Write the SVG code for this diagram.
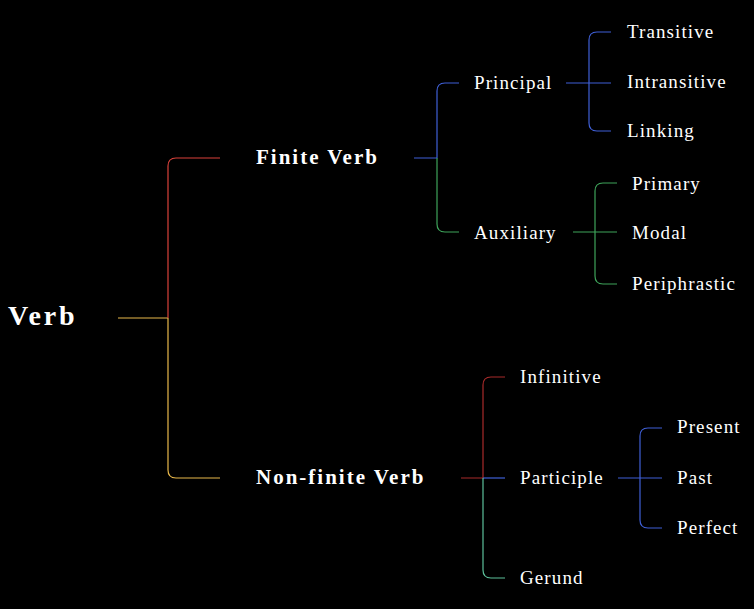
<svg xmlns="http://www.w3.org/2000/svg" width="754" height="609" viewBox="0 0 754 609">
<style>
text{font-family:"Liberation Serif","Times New Roman",serif;fill:#fff;font-size:19px;letter-spacing:1.1px}
.b{font-weight:bold;font-size:21px;letter-spacing:2px}
.r{font-weight:bold;font-size:28px;letter-spacing:2.8px}
path{fill:none;stroke-width:1.2}
.red{stroke:#d9413a}.yel{stroke:#e8b84a}.blu{stroke:#3f5fd6}.grn{stroke:#3ea35a}.dred{stroke:#a82a2a}.teal{stroke:#5cbf9a}
</style>
<rect width="754" height="609" fill="#000"/>
<g id="connectors">
<path class="yel" d="M118 318H168"/>
<path class="red" d="M168 318V166Q168 158 176 158H220"/>
<path class="yel" d="M168 318V470Q168 478 176 478H220"/>
<path class="blu" d="M414 158H437V91Q437 83 445 83H459"/>
<path class="grn" d="M437 158V224Q437 232 445 232H459"/>
<path class="blu" d="M566 83H611M589 83V40Q589 32 597 32H611M589 83V123Q589 131 597 131H611"/>
<path class="grn" d="M573 232H617M595 232V191Q595 183 603 183H617M595 232V276Q595 284 603 284H617"/>
<path class="dred" d="M461 478H483V385Q483 377 491 377H505"/>
<path class="blu" d="M483 478H505"/>
<path class="teal" d="M483 478V570Q483 578 491 578H505"/>
<path class="blu" d="M618 478H662M640 478V436Q640 428 648 428H662M640 478V520Q640 528 648 528H662"/>
</g>
<g id="n-verb"><text class="r" x="8" y="325">Verb</text></g>
<g id="n-finite"><text class="b" x="256" y="164">Finite Verb</text></g>
<g id="n-nonfinite"><text class="b" x="256" y="484">Non-finite Verb</text></g>
<g id="n-principal"><text x="474" y="89">Principal</text></g>
<g id="n-auxiliary"><text x="474" y="239">Auxiliary</text></g>
<g id="n-transitive"><text x="627" y="38">Transitive</text></g>
<g id="n-intransitive"><text x="627" y="88">Intransitive</text></g>
<g id="n-linking"><text x="627" y="137">Linking</text></g>
<g id="n-primary"><text x="632" y="190">Primary</text></g>
<g id="n-modal"><text x="632" y="239">Modal</text></g>
<g id="n-periphrastic"><text x="632" y="290">Periphrastic</text></g>
<g id="n-infinitive"><text x="520" y="383">Infinitive</text></g>
<g id="n-participle"><text x="520" y="484">Participle</text></g>
<g id="n-gerund"><text x="520" y="584">Gerund</text></g>
<g id="n-present"><text x="677" y="433">Present</text></g>
<g id="n-past"><text x="677" y="484">Past</text></g>
<g id="n-perfect"><text x="677" y="534">Perfect</text></g>
</svg>
